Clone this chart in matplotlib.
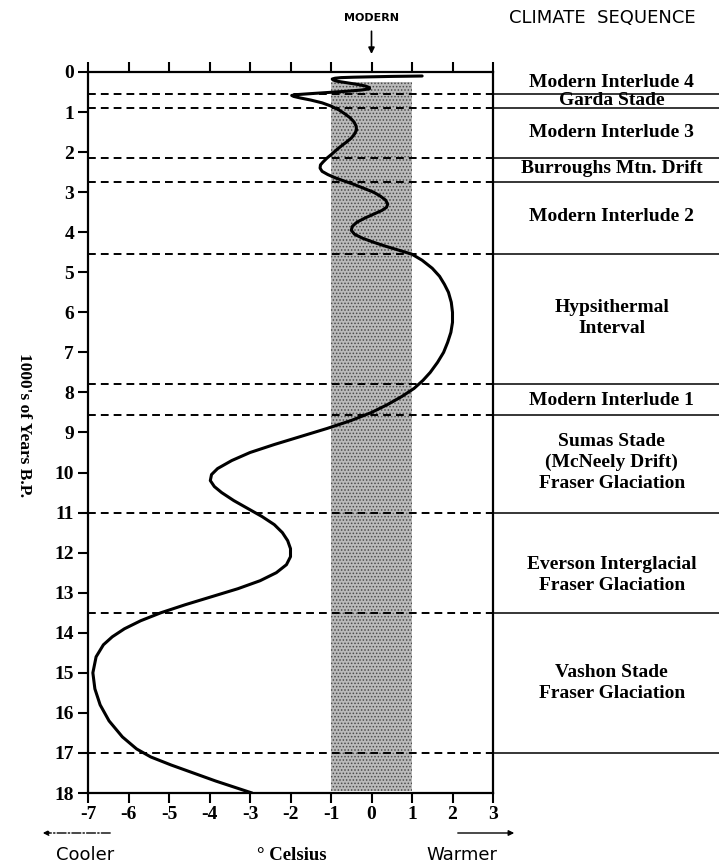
"""
Climate sequence chart: temperature departure vs. thousands of years B.P.
"""
import matplotlib
matplotlib.use("Agg")
import matplotlib.pyplot as plt

plt.rcParams['axes.unicode_minus'] = False
plt.rcParams['hatch.linewidth'] = 0.7

SERIF = 'Liberation Serif'
SANS = 'DejaVu Sans'

# temperature curve (kyr B.P., deg C)
CURVE_KYR = [0.10, 0.105, 0.11, 0.12, 0.13, 0.14, 0.155, 0.175, 0.20, 0.23,
             0.27, 0.31, 0.35, 0.39, 0.42, 0.45, 0.48, 0.51, 0.54, 0.565,
             0.585, 0.61, 0.65, 0.70, 0.77, 0.85, 0.95, 1.05, 1.15, 1.25,
             1.35, 1.45, 1.55, 1.65, 1.75, 1.85, 1.95, 2.05, 2.15, 2.25,
             2.32, 2.40, 2.48, 2.56, 2.64, 2.72, 2.80, 2.90, 3.00, 3.10,
             3.20, 3.30, 3.38, 3.46, 3.55, 3.65, 3.75, 3.85, 3.95, 4.05,
             4.15, 4.25, 4.35, 4.45, 4.55, 4.7, 4.9, 5.1, 5.3, 5.5,
             5.75, 6.0, 6.25, 6.5, 6.75, 7.0, 7.25, 7.5, 7.7, 7.9,
             8.1, 8.3, 8.5, 8.7, 8.9, 9.1, 9.3, 9.5, 9.7, 9.9,
             10.05, 10.2, 10.35, 10.5, 10.7, 10.9, 11.1, 11.3, 11.5, 11.7,
             11.9, 12.1, 12.3, 12.5, 12.7, 12.9, 13.1, 13.3, 13.5, 13.7,
             13.9, 14.1, 14.3, 14.6, 15.0, 15.4, 15.8, 16.2, 16.6, 16.9,
             17.1, 17.3, 17.5, 17.7, 17.85, 18.0]
CURVE_TEMP = [1.25, 0.9, 0.5, 0.0, -0.45, -0.75, -0.9, -0.97, -0.95, -0.85,
              -0.6, -0.35, -0.15, -0.05, -0.05, -0.25, -0.6, -1.05, -1.5, -1.85,
              -1.97, -1.92, -1.75, -1.5, -1.22, -1.0, -0.8, -0.65, -0.52, -0.43,
              -0.38, -0.37, -0.42, -0.5, -0.62, -0.75, -0.87, -0.98, -1.1, -1.2,
              -1.26, -1.27, -1.22, -1.08, -0.9, -0.68, -0.45, -0.2, 0.05, 0.22,
              0.35, 0.4, 0.37, 0.25, 0.05, -0.17, -0.36, -0.47, -0.5, -0.42,
              -0.22, 0.05, 0.35, 0.68, 1.0, 1.25, 1.5, 1.68, 1.8, 1.9,
              1.97, 2.0, 2.0, 1.96, 1.88, 1.78, 1.63, 1.45, 1.27, 1.05,
              0.75, 0.4, 0.0, -0.5, -1.1, -1.75, -2.4, -3.0, -3.45, -3.8,
              -3.95, -3.98, -3.88, -3.7, -3.4, -3.05, -2.7, -2.4, -2.2, -2.07,
              -2.0, -2.0, -2.1, -2.35, -2.75, -3.3, -3.95, -4.6, -5.2, -5.7,
              -6.1, -6.4, -6.62, -6.8, -6.88, -6.83, -6.7, -6.48, -6.15, -5.8,
              -5.45, -4.95, -4.4, -3.85, -3.4, -2.95]

# boundaries between climate episodes (kyr B.P.)
BOUNDARIES = [0.55, 0.9, 2.15, 2.75, 4.55, 7.8, 8.57, 11.0, 13.5, 17.0]

# episode labels and their vertical centres (kyr B.P.)
EPISODES = ["Modern Interlude 4", "Garda Stade", "Modern Interlude 3",
            "Burroughs Mtn. Drift", "Modern Interlude 2",
            "Hypsithermal\nInterval", "Modern Interlude 1",
            "Sumas Stade\n(McNeely Drift)\nFraser Glaciation",
            "Everson Interglacial\nFraser Glaciation",
            "Vashon Stade\nFraser Glaciation"]
EPISODE_KYR = [0.25, 0.72, 1.5, 2.42, 3.6, 6.15, 8.2, 9.75, 12.55, 15.25]

# modern range band
BAND_TEMP = [-1, 1]
BAND_KYR = [0.25, 17.95]

XTICKS = list(range(-7, 4))
YTICKS = list(range(0, 19))

W, H = 719, 863
fig = plt.figure(figsize=(W / 100, H / 100), dpi=100)
ax = fig.add_axes([88 / W, 1 - 793 / H, (493 - 88) / W, (793 - 72) / H])

ax.set_xlim(-7, 3)
ax.set_ylim(18, 0)

# stippled modern band
ax.fill_betweenx(BAND_KYR, BAND_TEMP[0], BAND_TEMP[1], facecolor='#bababa',
                 edgecolor='#4a4a4a', hatch='.....', linewidth=0, zorder=1)

# dashed episode boundaries, solid continuation to the right
ax.hlines(BOUNDARIES, -7, 3, colors='black', linewidth=1.4,
          linestyles=(0, (4.0, 2.6)), zorder=2)
ax.hlines(BOUNDARIES, 3, 3 + (W - 493) / 40.5, colors='black', linewidth=1.1,
          clip_on=False, zorder=2)

ax.plot(CURVE_TEMP, CURVE_KYR, color='black', linewidth=2.2,
        solid_capstyle='round', solid_joinstyle='round', zorder=3)

for name, kyr in zip(EPISODES, EPISODE_KYR):
    ax.text(5.93, kyr, name, ha='center', va='center', fontsize=14,
            family=SERIF, weight='bold', linespacing=1.3, clip_on=False)

for s in ax.spines.values():
    s.set_linewidth(1.6)

ax.set_xticks(XTICKS)
ax.set_xticklabels([str(t) for t in XTICKS])
ax.set_yticks(YTICKS)
ax.set_yticklabels([str(t) for t in YTICKS])
ax.tick_params(axis='x', top=True, bottom=True, direction='out', length=7,
               width=1.5, pad=2, labelsize=14)
ax.tick_params(axis='y', left=True, right=False, direction='out', length=7,
               width=1.5, pad=3, labelsize=14)
for lab in ax.get_xticklabels() + ax.get_yticklabels():
    lab.set_family(SERIF)
    lab.set_weight('bold')

fig.text(24 / W, 1 - 425 / H, "1000's of Years B.P.", rotation=-90,
         ha='center', va='center', fontsize=12.5, family=SERIF, weight='bold')

# header
ax.annotate('MODERN', xy=(0, -0.45), xytext=(0, -1.35), ha='center',
            va='center', fontsize=8, family=SANS, weight='bold',
            annotation_clip=False,
            arrowprops=dict(arrowstyle='-|>', color='black', lw=1.2,
                            mutation_scale=9, shrinkA=4, shrinkB=0))
fig.text(602 / W, 1 - 18 / H, 'CLIMATE  SEQUENCE', ha='center', va='center',
         fontsize=13, family=SANS)

# bottom captions
fig.text(85 / W, 1 - 855 / H, 'Cooler', ha='center', va='center',
         fontsize=13, family=SANS)
fig.text(292 / W, 1 - 855 / H, '° Celsius', ha='center', va='center',
         fontsize=13.5, family=SERIF, weight='bold')
fig.text(462 / W, 1 - 855 / H, 'Warmer', ha='center', va='center',
         fontsize=13, family=SANS)
fig.add_artist(matplotlib.patches.FancyArrowPatch(
    (113 / W, 1 - 833 / H), (40 / W, 1 - 833 / H), transform=fig.transFigure,
    arrowstyle='-|>', mutation_scale=8, lw=1.0, linestyle='-.',
    color='black'))
fig.add_artist(matplotlib.patches.FancyArrowPatch(
    (455 / W, 1 - 833 / H), (517 / W, 1 - 833 / H), transform=fig.transFigure,
    arrowstyle='-|>', mutation_scale=8, lw=1.0, color='black'))

plt.savefig('out.png', dpi=100)
